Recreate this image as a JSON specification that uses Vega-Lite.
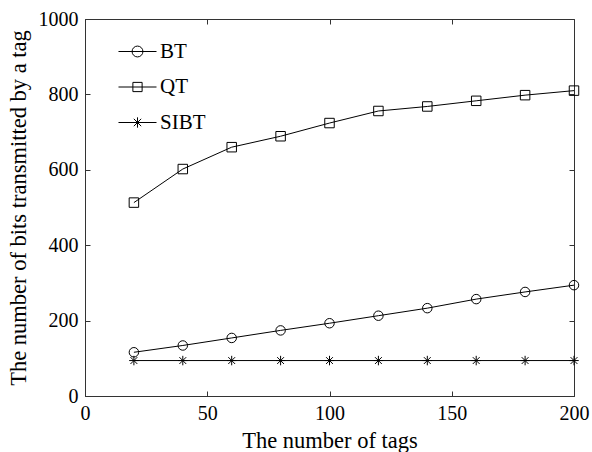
{
  "$schema": "https://vega.github.io/schema/vega-lite/v6.json",
  "width": 489,
  "height": 377,
  "autosize": "none",
  "padding": {"left": 85, "top": 19, "right": 18, "bottom": 56},
  "background": "white",
  "config": {
    "font": "Liberation Serif",
    "view": {"stroke": "#333333", "strokeWidth": 1},
    "axis": {
      "domainColor": "#333333",
      "tickColor": "#333333",
      "labelColor": "black",
      "titleColor": "black",
      "labelFont": "Liberation Serif",
      "titleFont": "Liberation Serif",
      "labelFontSize": 20,
      "titleFontSize": 22.5,
      "titleFontWeight": "normal",
      "labelFlush": false,
      "labelOverlap": false,
      "grid": false,
      "tickSize": -5,
      "labelPadding": 12
    }
  },
  "data": {
    "values": [
      {"n": 20, "series": "BT", "v": 116}, {"n": 40, "series": "BT", "v": 134}, {"n": 60, "series": "BT", "v": 154},
      {"n": 80, "series": "BT", "v": 174}, {"n": 100, "series": "BT", "v": 193}, {"n": 120, "series": "BT", "v": 213},
      {"n": 140, "series": "BT", "v": 233}, {"n": 160, "series": "BT", "v": 257}, {"n": 180, "series": "BT", "v": 276},
      {"n": 200, "series": "BT", "v": 294},
      {"n": 20, "series": "QT", "v": 513}, {"n": 40, "series": "QT", "v": 602}, {"n": 60, "series": "QT", "v": 660},
      {"n": 80, "series": "QT", "v": 689}, {"n": 100, "series": "QT", "v": 724}, {"n": 120, "series": "QT", "v": 756},
      {"n": 140, "series": "QT", "v": 768}, {"n": 160, "series": "QT", "v": 783}, {"n": 180, "series": "QT", "v": 798},
      {"n": 200, "series": "QT", "v": 810},
      {"n": 20, "series": "SIBT", "v": 94}, {"n": 40, "series": "SIBT", "v": 94}, {"n": 60, "series": "SIBT", "v": 94},
      {"n": 80, "series": "SIBT", "v": 94}, {"n": 100, "series": "SIBT", "v": 94}, {"n": 120, "series": "SIBT", "v": 94},
      {"n": 140, "series": "SIBT", "v": 94}, {"n": 160, "series": "SIBT", "v": 94}, {"n": 180, "series": "SIBT", "v": 94},
      {"n": 200, "series": "SIBT", "v": 94}
    ]
  },
  "layer": [
    {
      "mark": {"type": "line", "color": "black", "strokeWidth": 1},
      "encoding": {
        "x": {"field": "n", "type": "quantitative", "scale": {"domain": [0, 200], "nice": false, "zero": false},
              "axis": {"orient": "bottom", "values": [0, 50, 100, 150, 200], "format": "d", "title": "The number of tags", "titlePadding": 6}},
        "y": {"field": "v", "type": "quantitative", "scale": {"domain": [0, 1000], "nice": false, "zero": false},
              "axis": {"orient": "left", "values": [0, 200, 400, 600, 800, 1000], "format": "d", "title": "The number of bits transmitted by a tag", "titlePadding": 8}},
        "detail": {"field": "series"}
      }
    },
    {
      "mark": {"type": "point", "filled": false, "color": "black", "strokeWidth": 1, "opacity": 1},
      "encoding": {
        "x": {"field": "n", "type": "quantitative", "scale": {"domain": [0, 200], "nice": false, "zero": false}, "axis": null},
        "y": {"field": "v", "type": "quantitative", "scale": {"domain": [0, 1000], "nice": false, "zero": false}, "axis": null},
        "size": {"value": 90},
        "shape": {
          "field": "series", "type": "nominal",
          "scale": {"domain": ["BT", "QT", "SIBT"], "range": ["circle", "square", "M-1,0L1,0M0,-1L0,1M-0.72,-0.72L0.72,0.72M-0.72,0.72L0.72,-0.72"]},
          "legend": null
        }
      }
    },
    {
      "mark": {"type": "point", "filled": false, "color": "black", "strokeWidth": 1, "opacity": 0},
      "encoding": {
        "x": {"field": "n", "type": "quantitative", "scale": {"domain": [0, 200], "nice": false, "zero": false}, "axis": {"orient": "top", "values": [0, 50, 100, 150, 200], "labels": false, "title": null, "domain": false}},
        "y": {"field": "v", "type": "quantitative", "scale": {"domain": [0, 1000], "nice": false, "zero": false}, "axis": {"orient": "right", "values": [0, 200, 400, 600, 800, 1000], "labels": false, "title": null, "domain": false}},
        "size": {"value": 118},
        "shape": {
          "field": "series", "type": "nominal",
          "scale": {"domain": ["BT", "QT", "SIBT"], "range": [
            "M-3.5,0L3.5,0M-1,0A1,1 0 1,1 1,0A1,1 0 1,1 -1,0",
            "M-3.5,0L3.5,0M-0.85,-0.85L0.85,-0.85L0.85,0.85L-0.85,0.85Z",
            "M-3.5,0L3.5,0M0,-0.95L0,0.95M-0.68,-0.68L0.68,0.68M-0.68,0.68L0.68,-0.68"]},
          "legend": {
            "title": null,
            "orient": "none",
            "legendX": 42,
            "legendY": 22,
            "padding": 0,
            "labelFont": "Liberation Serif",
            "labelFontSize": 21,
            "labelColor": "black",
            "labelOffset": 12,
            "rowPadding": 13.5,
            "symbolSize": 118,
            "symbolOpacity": 1,
            "symbolStrokeColor": "black",
            "symbolStrokeWidth": 1,
            "symbolFillColor": "transparent"
          }
        }
      }
    }
  ],
  "resolve": {"axis": {"x": "independent", "y": "independent"}, "scale": {"shape": "independent"}}
}
